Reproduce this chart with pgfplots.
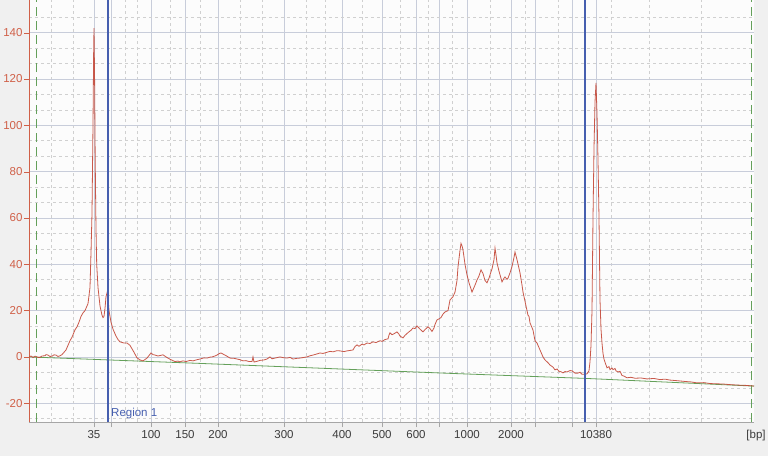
\documentclass[border=0pt]{standalone}
\usepackage{fontspec}
\setmainfont{Liberation Sans}
\usepackage{pgfplots}
\pgfplotsset{compat=1.18}
\definecolor{curvered}{RGB}{196,72,56}
\definecolor{ylab}{RGB}{208,96,72}
\definecolor{gridblue}{RGB}{200,205,218}
\definecolor{minorgrid}{RGB}{208,208,208}
\definecolor{vblue}{RGB}{70,95,175}
\definecolor{bgreen}{RGB}{100,160,90}
\definecolor{bg}{RGB}{240,240,240}
\definecolor{ticklab}{RGB}{60,60,60}
\begin{document}
\begin{tikzpicture}[x=1pt,y=1pt]
\useasboundingbox (0,0) rectangle (768,456);
\fill[bg] (0,0) rectangle (768,456);
\begin{axis}[
  at={(29pt,34pt)}, anchor=south west,
  scale only axis, width=725pt, height=422pt,
  xmin=29, xmax=754, ymin=-28.1, ymax=154.1,
  axis lines=left,
  x axis line style={-, draw=gray!70},
  y axis line style={-, draw=ylab, line width=0.8pt},
  axis background/.style={fill=white!98!gray},
  tick align=outside,
  major tick length=5pt, minor tick length=0pt,
  x tick style={gray!70}, y tick style={ylab},
  font=\fontsize{11.5}{13}\selectfont,
  /pgf/number format/assume math mode=true,
  xtick={94,111,151,185,218,284,342,382,416,439,467,511,535,572,596},
  xticklabels={35,,100,150,200,300,400,500,600,,1000,2000,,,10380},
  minor xtick={51,73,125,137,170,200,240,262,306,325,362,400,428,452,490,525,558,611,649,701},
  ytick={-20,0,20,40,60,80,100,120,140},
  minor ytick={-26.667,-13.333,-6.667,6.667,13.333,26.667,33.333,46.667,53.333,66.667,73.333,86.667,93.333,106.667,113.333,126.667,133.333,146.667},
  yticklabel style={text=ylab, xshift=2pt},
  xticklabel style={text=ticklab},
  grid=both,
  major grid style={gridblue, line width=0.7pt},
  minor grid style={minorgrid, dashed, line width=0.5pt},
  clip=true,
]
% green baseline
\addplot[bgreen, line width=0.8pt] coordinates {(29,0) (200,-2.8) (450,-7.1) (587,-9.3) (754,-12.6)};
% green dashed verticals
\addplot[bgreen, line width=0.9pt, dash pattern=on 9pt off 5pt] coordinates {(36,-28.1) (36,154.1)};
\addplot[bgreen, line width=0.9pt, dash pattern=on 9pt off 5pt] coordinates {(751,-28.1) (751,154.1)};
% electropherogram trace
\addplot[curvered, line width=0.8pt, opacity=0.9] coordinates {
(29,0) (31,0.4) (33,-0.3) (35,0.3) (36,0.2) (38,-0.2) (40,-0.2) (42,0.4) (45,0.5) (46,1.0) (48,0.8) (50,0.2) (52,0.3) (54,0.9) (56,0.8) (58,0.2) (60,0.5) (62,1) (64,2) (66,3) (68,5) (70,7) (72,8.5) (75,11.7) (77,13) (79,15) (81,17.5) (83,19) (85,20) (86,21) (88,23) (90,30) (91,45) (92,62) (93,100) (93.6,130) (94,142) (94.6,120) (95.2,85) (96,55) (96.7,40) (98,30) (100,22) (102,18) (103,17) (104,17.5) (105,21) (106,26) (107,27.6) (108,26) (109,20) (111,15) (113,12) (116,9) (118,7.5) (120,6.5) (124,6) (127,6) (130,5) (134,2) (137,-0.4) (140,-1.3) (143,-1.7) (147,-0.5) (151,1.7) (153,1.0) (155,0.8) (158,0.4) (160,0.6) (163,0.9) (166,0) (170,-1) (173,-1.6) (175,-2) (178,-1.8) (180,-2.1) (183,-1.7) (186,-2) (190,-1.5) (193,-1.7) (197,-1.2) (200,-0.9) (204,-0.4) (207,-0.5) (210,-0.1) (212,0) (215,0.4) (217,0.8) (219,1.4) (221,1.7) (224,1) (227,0.3) (230,-0.5) (234,-0.6) (237,-0.9) (240,-1.2) (243,-1.7) (246,-1.6) (249,-2) (252,-2) (253,0) (254,-2.2) (257,-1.9) (260,-1.5) (264,-1.3) (267,-0.9) (270,0) (272,-0.8) (276,-0.4) (280,0) (283,-0.3) (287,-0.5) (290,-0.2) (293,-0.9) (297,-0.6) (300,-0.5) (304,-0.2) (307,0) (310,0.5) (313,0.8) (317,1.3) (320,1.7) (323,1.5) (327,2) (330,2.4) (333,2.2) (337,2.7) (340,2.6) (344,2.3) (347,2.6) (350,2.8) (353,3) (355,4.5) (357,5.2) (359,4.6) (362,5.5) (364,5.2) (367,6) (370,5.8) (373,6.5) (376,6.2) (380,7) (382,6.7) (385,7.5) (388,7.8) (389,9.5) (390,10.4) (392,9.6) (394,10) (397,10.8) (399,9.8) (400,9) (403,8.2) (405,9.3) (408,10.5) (411,11.5) (413,12.5) (415,12.2) (417,13.4) (420,12) (423,10.8) (425,11.8) (428,13) (430,12.2) (432,11) (434,12.5) (435,14) (437,16) (439,16.4) (441,17) (443,18.5) (445,19.4) (448,20) (450,24.6) (453,26) (455,28) (457,33) (458,38.9) (460,46) (461,49) (462,48) (463,46.2) (465,40) (467,35.4) (469,32) (472,28) (475,31) (477,33.2) (479,35) (481,37.6) (483,36) (485,33) (487,32) (489,34) (490,35.4) (492,38) (494,42) (495,47) (496,44) (497,40.6) (499,37) (502,32.4) (504,34) (505,34.5) (507,33.5) (508,34) (510,36.3) (512,39) (514,43) (515,45.3) (517,42) (520,36.3) (522,31) (523,28) (525,24) (526,22) (528,18) (529,17.5) (530,14.7) (533,11.6) (535,7) (537,6) (540,3) (543,0) (545,-1.3) (548,-2.5) (550,-3.5) (553,-4.4) (555,-5.6) (557,-5.2) (559,-6.2) (561,-6.4) (563,-6.9) (565,-6.3) (567,-6.5) (570,-5.9) (572,-6) (575,-7) (578,-7) (580,-6.6) (582,-7.5) (585,-7.5) (587,-7.3) (589,-6) (590,-2) (591,5) (592,20) (593,60) (594,90) (595,110) (596,118.3) (597,105) (598,85) (599,60) (600,24.6) (601,12) (602,6) (603,1.5) (604,-1) (606,-3.5) (607,-4.7) (609,-4.2) (610,-5.5) (612,-4.8) (613,-5.5) (615,-5.0) (616,-6) (618,-6.5) (620,-6.2) (622,-8) (624,-8.3) (627,-9) (631,-8.8) (635,-9.2) (641,-9.1) (647,-9.5) (654,-9.3) (660,-9.8) (665,-9.6) (670,-10) (678,-10.3) (685,-10.6) (691,-10.8) (697,-11.2) (704,-11.1) (710,-11.5) (716,-11.6) (723,-11.7) (731,-12.0) (740,-12.2) (746,-12.3) (752,-12.5) (754,-12.6)
};
% blue region lines
\addplot[vblue, line width=1.1pt] coordinates {(108,-28.1) (108,154.1)};
\addplot[vblue, line width=1.1pt] coordinates {(585,-28.1) (585,154.1)};
\node[anchor=west, text=vblue, font=\fontsize{11.5}{13}\selectfont, inner sep=0pt] at (axis cs:111,-24.3) {Region 1};
\end{axis}
\node[text=ticklab, font=\fontsize{11.5}{13}\selectfont] at (756,20) {[bp]};
\end{tikzpicture}
\end{document}
